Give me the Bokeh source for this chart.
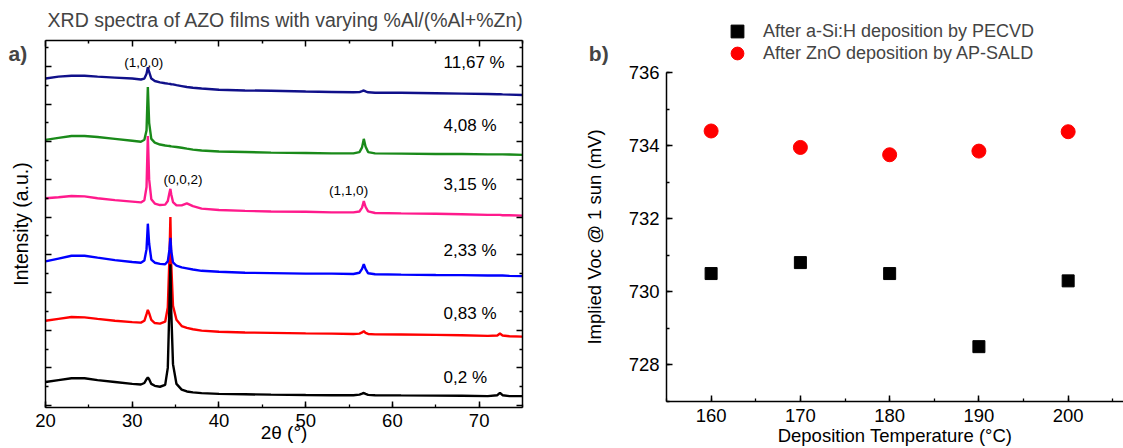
from bokeh.plotting import figure
from bokeh.models import (Range1d, LinearAxis, Label, Legend, LegendItem,
                          SingleIntervalTicker, FixedTicker)
from bokeh.layouts import row
from bokeh.embed import file_html
from bokeh.resources import INLINE

FONT = "Liberation Sans"

# ---------------- Panel a: XRD spectra (intensity in arbitrary, offset units) ----------------
two_theta = [20, 21.5, 23, 24.5, 26, 28, 30, 31.0, 31.4, 31.65, 31.8, 31.95, 32.2, 32.6, 33.2, 33.8,
             34.1, 34.3, 34.4, 34.5, 34.7, 35.1, 35.7, 36.3, 37, 38, 40, 43, 46, 50, 53, 55.5,
             56.2, 56.5, 56.7, 56.9, 57.2, 58, 61, 65, 68, 71, 72.1, 72.4, 72.7, 73.5, 75]

int_11_67 = [17.35, 17.45, 17.5, 17.5, 17.45, 17.4, 17.35, 17.3, 17.35, 17.6, 17.95, 17.7, 17.35, 17.22, 17.15, 17.1,
             17.08, 17.07, 17.06, 17.05, 17.04, 17.0, 16.95, 16.9, 16.86, 16.82, 16.76, 16.72, 16.7, 16.66, 16.64, 16.62,
             16.63, 16.68, 16.72, 16.67, 16.62, 16.6, 16.6, 16.57, 16.55, 16.53, 16.52, 16.52, 16.51, 16.5, 16.48]
int_4_08 = [14.1, 14.2, 14.3, 14.3, 14.25, 14.15, 14.05, 14.0, 14.1, 14.6, 16.9, 15.0, 14.15, 13.95, 13.85, 13.8,
            13.78, 13.77, 13.76, 13.75, 13.74, 13.72, 13.68, 13.63, 13.58, 13.53, 13.48, 13.45, 13.42, 13.4, 13.38, 13.38,
            13.45, 13.7, 14.15, 13.75, 13.45, 13.38, 13.37, 13.35, 13.35, 13.33, 13.33, 13.33, 13.33, 13.32, 13.3]
int_3_15 = [11.0, 11.05, 11.12, 11.1, 11.0, 10.9, 10.82, 10.78, 10.9, 11.6, 14.3, 12.0, 10.95, 10.72, 10.64, 10.66,
            10.85, 11.3, 11.5, 11.2, 10.8, 10.62, 10.62, 10.73, 10.58, 10.45, 10.38, 10.33, 10.3, 10.28, 10.25, 10.25,
            10.3, 10.5, 10.85, 10.55, 10.3, 10.22, 10.2, 10.18, 10.15, 10.12, 10.12, 10.12, 10.1, 10.1, 10.08]
int_2_33 = [7.65, 7.8, 7.95, 7.95, 7.85, 7.72, 7.62, 7.58, 7.7, 8.3, 9.65, 8.6, 7.75, 7.58, 7.52, 7.5,
            7.65, 8.3, 8.9, 8.2, 7.6, 7.42, 7.33, 7.28, 7.22, 7.15, 7.1, 7.05, 7.03, 7.0, 7.0, 6.98,
            7.05, 7.25, 7.5, 7.25, 7.02, 6.97, 6.95, 6.93, 6.92, 6.9, 6.9, 6.9, 6.9, 6.88, 6.87]
int_0_83 = [4.5, 4.6, 4.7, 4.68, 4.6, 4.5, 4.43, 4.4, 4.5, 4.85, 5.08, 4.9, 4.55, 4.38, 4.35, 4.45,
            5.2, 8.0, 10.0, 7.5, 5.3, 4.55, 4.22, 4.12, 4.05, 3.98, 3.92, 3.88, 3.86, 3.83, 3.82, 3.8,
            3.82, 3.88, 3.95, 3.86, 3.8, 3.78, 3.77, 3.75, 3.73, 3.7, 3.72, 3.82, 3.72, 3.68, 3.66]
int_0_2 = [1.25, 1.35, 1.45, 1.45, 1.35, 1.25, 1.15, 1.12, 1.2, 1.4, 1.5, 1.4, 1.15, 1.05, 1.0, 1.1,
           2.0, 5.5, 7.5, 5.0, 2.2, 1.15, 0.85, 0.75, 0.7, 0.66, 0.62, 0.6, 0.58, 0.56, 0.55, 0.55,
           0.58, 0.63, 0.67, 0.62, 0.57, 0.55, 0.54, 0.53, 0.52, 0.5, 0.55, 0.68, 0.55, 0.5, 0.5]

sample_labels = ["11,67 %", "4,08 %", "3,15 %", "2,33 %", "0,83 %", "0,2 %"]
peak_labels = ["(1,0,0)", "(0,0,2)", "(1,1,0)"]
x_ticks_a = [20, 30, 40, 50, 60, 70]
x_minor_a = [25, 35, 45, 55, 65, 75]
y_ticks_a = [0, 2, 4, 6, 8, 10, 12, 14, 16, 18]
y_minor_a = [1, 3, 5, 7, 9, 11, 13, 15, 17, 19]

# ---------------- Panel b: implied Voc ----------------
temperature = [160, 170, 180, 190, 200]
voc_pecvd = [730.5, 730.8, 730.5, 728.5, 730.3]
voc_sald = [734.4, 733.95, 733.75, 733.85, 734.38]
legend_labels = ["After a-Si:H deposition by PECVD", "After ZnO deposition by AP-SALD"]

# axis extents (data units)
XA0, XA1 = 20, 75
YA0, YA1 = -0.1, 19.37
XB0, XB1 = 155, 206.2
YB0, YB1 = 727, 736


def base_axis(ax):
    ax.axis_line_color = "black"
    ax.axis_line_width = 1.5
    ax.major_tick_line_color = "black"
    ax.minor_tick_line_color = "black"
    ax.major_tick_line_width = 1.5
    ax.minor_tick_line_width = 1.3
    ax.major_tick_in = 6
    ax.major_tick_out = 0
    ax.minor_tick_in = 3
    ax.minor_tick_out = 0
    ax.major_label_text_font = FONT
    ax.major_label_text_font_size = "18.5px"
    ax.major_label_text_color = "black"
    ax.axis_label_text_font = FONT
    ax.axis_label_text_font_style = "normal"
    ax.axis_label_text_color = "black"


def tick_only_axis(ticks, length, loc, bounds, line=True):
    ax = LinearAxis(ticker=FixedTicker(ticks=[], minor_ticks=ticks))
    base_axis(ax)
    ax.minor_tick_in = length
    ax.minor_tick_line_width = 1.5
    ax.fixed_location = loc
    ax.bounds = bounds
    if not line:
        ax.axis_line_color = None
    return ax


# ---- figure a (frame covers the whole canvas; axes are placed at fixed data locations) ----
pa = figure(frame_width=560, frame_height=448, min_border=0, title=None,
            x_range=Range1d(14.811, 79.381), y_range=Range1d(-2.276, 21.491),
            output_backend="svg", toolbar_location=None)
pa.xgrid.visible = False
pa.ygrid.visible = False
pa.outline_line_color = None
pa.background_fill_color = "white"
pa.border_fill_color = "white"

xa = pa.xaxis[0]
base_axis(xa)
xa.ticker = SingleIntervalTicker(interval=10, num_minor_ticks=2)
xa.fixed_location = YA0
xa.bounds = (XA0, XA1)
xa.major_label_standoff = 7
xa.axis_label = "2θ (°)"
xa.axis_label_text_font_size = "19px"
xa.axis_label_standoff = -9

ya = pa.yaxis[0]
base_axis(ya)
ya.ticker = FixedTicker(ticks=[], minor_ticks=y_ticks_a)
ya.minor_tick_in = 6
ya.minor_tick_line_width = 1.5
ya.fixed_location = XA0
ya.bounds = (YA0, YA1)
ya.axis_label = "Intensity (a.u.)"
ya.axis_label_text_font_size = "19.5px"
ya.axis_label_standoff = 14

pa.add_layout(tick_only_axis(y_minor_a, 3, XA0, (YA0, YA1), line=False), "left")
pa.add_layout(tick_only_axis(x_ticks_a, 6, YA1, (XA0, XA1)), "above")
pa.add_layout(tick_only_axis(x_minor_a, 3, YA1, (XA0, XA1), line=False), "above")
pa.add_layout(tick_only_axis(y_ticks_a, 6, XA1, (YA0, YA1)), "right")
pa.add_layout(tick_only_axis(y_minor_a, 3, XA1, (YA0, YA1), line=False), "right")

series = [
    (int_11_67, "#10108a"),
    (int_3_15, "#ff1a8c"),
    (int_4_08, "#1a8a1a"),
    (int_0_83, "#ff0000"),
    (int_2_33, "#0000ff"),
    (int_0_2, "#000000"),
]
for ys, col in series:
    pa.line(two_theta, ys, line_color=col, line_width=2.4)

label_y = [18.18, 14.85, 11.71, 8.22, 4.9, 1.5]
for txt, yv in zip(sample_labels, label_y):
    pa.add_layout(Label(x=65.9, y=yv, text=txt, text_font=FONT, text_font_size="17px",
                        text_baseline="middle", text_align="left", text_color="black"))

peak_pos = [(31.33, 18.2), (35.85, 12.02), (54.95, 11.4)]
for txt, (xv, yv) in zip(peak_labels, peak_pos):
    pa.add_layout(Label(x=xv, y=yv, text=txt, text_font=FONT, text_font_size="13.5px",
                        text_baseline="middle", text_align="center", text_color="black"))

pa.add_layout(Label(x=47.7, y=20.45, text="XRD spectra of AZO films with varying %Al/(%Al+%Zn)",
                    text_font=FONT, text_font_size="19.5px", text_baseline="middle", text_align="center"))
pa.add_layout(Label(x=15.73, y=18.7, text="a)", text_font=FONT, text_font_size="21px",
                    text_font_style="bold", text_baseline="middle", text_align="left"))

# ---- figure b ----
pb = figure(frame_width=563, frame_height=448, min_border=0, title=None,
            x_range=Range1d(143.125, 206.2), y_range=Range1d(725.714, 737.97),
            output_backend="svg", toolbar_location=None)
pb.xgrid.visible = False
pb.ygrid.visible = False
pb.outline_line_color = None
pb.background_fill_color = "white"
pb.border_fill_color = "white"

xb = pb.xaxis[0]
base_axis(xb)
xb.ticker = SingleIntervalTicker(interval=10, num_minor_ticks=2)
xb.fixed_location = YB0
xb.bounds = (XB0, XB1)
xb.major_label_standoff = 8
xb.axis_label = "Deposition Temperature (°C)"
xb.axis_label_text_font_size = "18.5px"
xb.axis_label_standoff = -1

yb = pb.yaxis[0]
base_axis(yb)
yb.ticker = SingleIntervalTicker(interval=2, num_minor_ticks=2)
yb.fixed_location = XB0
yb.bounds = (YB0, YB1)
yb.major_label_standoff = 7
yb.axis_label = "Implied Voc @ 1 sun (mV)"
yb.axis_label_text_font_size = "18.5px"
yb.axis_label_standoff = 21

r_sq = pb.scatter(temperature, voc_pecvd, marker="square", size=12, fill_color="black", line_color="black")
r_ci = pb.scatter(temperature, voc_sald, marker="circle", size=14, fill_color="#ff0000", line_color="#ff0000")

for txt, rend, vy in [(legend_labels[0], r_sq, 401), (legend_labels[1], r_ci, 379)]:
    lg = Legend(items=[LegendItem(label=txt, renderers=[rend])], location=(161, vy),
                border_line_color=None, background_fill_alpha=0, padding=0, margin=0, spacing=0,
                glyph_width=32, glyph_height=32, label_standoff=10,
                label_text_font=FONT, label_text_font_size="18px")
    pb.add_layout(lg, "center")

pb.add_layout(Label(x=146.3, y=736.52, text="b)", text_font=FONT, text_font_size="21px",
                    text_font_style="bold", text_baseline="middle", text_align="left"))

layout = row(pa, pb)
open("out.html", "w").write(file_html(layout, INLINE))
